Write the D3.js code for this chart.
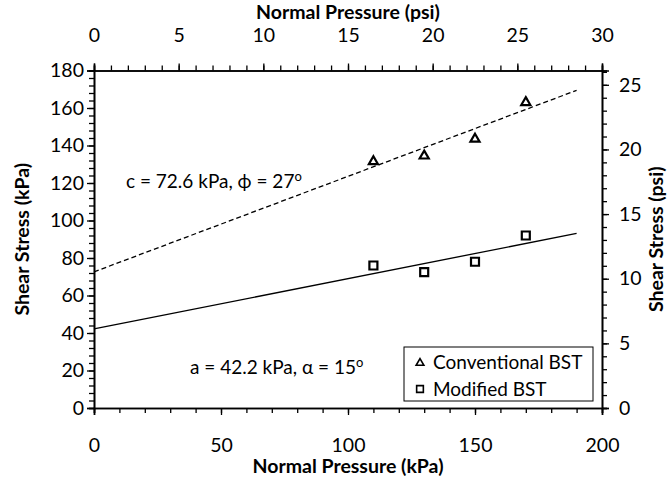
<!DOCTYPE html>
<html><head><meta charset="utf-8">
<script src="https://cdn.jsdelivr.net/npm/d3@7"></script>
<style>
body{margin:0;background:#fff}
text{font-family:Lato,'Open Sans','DejaVu Sans',sans-serif;fill:#000}
</style>
</head><body>
<svg id="chart" width="668" height="477"></svg>
<script>
// ---- data ----
const pressureKPa = [110, 130, 150, 170];
const conventionalKPa = [132, 135, 144, 163.5];
const modifiedKPa = [76, 72.5, 78, 92];
const seriesNames = ["Conventional BST", "Modified BST"];
const fitIntercepts = [72.6, 42.2];   // kPa
const fitAnglesDeg = [27, 15];
const fitRangeKPa = [0, 190];
const fitLabels = ["c = 72.6 kPa, \u03D5 = 27", "a = 42.2 kPa, \u03B1 = 15"];
const xTicksKPa = [0, 50, 100, 150, 200];
const xTicksPsi = [0, 5, 10, 15, 20, 25, 30];
const yTicksKPa = [0, 20, 40, 60, 80, 100, 120, 140, 160, 180];
const yTicksPsi = [0, 5, 10, 15, 20, 25];
const KPA_PER_PSI = 6.894757;

// ---- layout ----
const L = 94, R = 602, T = 70.5, B = 408;
const svg = d3.select("#chart");

const x = d3.scaleLinear().domain([0, 200]).range([L, R]);
const xPsi = d3.scaleLinear().domain([0, 30]).range([L, R]);
const y = d3.scaleLinear().domain([0, 180]).range([B, T]);
const yPsi = d3.scaleLinear().domain([0, 180 / KPA_PER_PSI]).range([B, T]);

const fs = 19.5;
function style(g) {
  g.select(".domain").attr("stroke", "#000").attr("stroke-width", 1.6);
  g.selectAll(".tick line").attr("stroke", "#000").attr("stroke-width", 1.3);
  g.selectAll("text").style("font-size", fs + "px").attr("fill", "#000");
}

// minor ticks
svg.append("g").attr("transform", `translate(0,${B})`)
  .call(d3.axisBottom(x).tickValues(d3.range(0, 201, 10)).tickSize(5).tickFormat(""))
  .call(style);
svg.append("g").attr("transform", `translate(0,${T})`)
  .call(d3.axisTop(xPsi).tickValues(d3.range(0, 31, 1)).tickSize(5).tickFormat(""))
  .call(style);
svg.append("g").attr("transform", `translate(${L},0)`)
  .call(d3.axisLeft(y).tickValues(d3.range(0, 181, 4)).tickSize(5).tickFormat(""))
  .call(style);
svg.append("g").attr("transform", `translate(${R},0)`)
  .call(d3.axisRight(yPsi).tickValues(d3.range(0, 27, 1)).tickSize(5).tickFormat(""))
  .call(style);

// major ticks + labels
svg.append("g").attr("transform", `translate(0,${B})`)
  .call(d3.axisBottom(x).tickValues(xTicksKPa).tickSize(7).tickPadding(23).tickFormat(d3.format("d")))
  .call(style);
svg.append("g").attr("transform", `translate(0,${T})`)
  .call(d3.axisTop(xPsi).tickValues(xTicksPsi).tickSize(7).tickPadding(22).tickFormat(d3.format("d")))
  .call(style);
svg.append("g").attr("transform", `translate(${L},0)`)
  .call(d3.axisLeft(y).tickValues(yTicksKPa).tickSize(7).tickPadding(3).tickFormat(d3.format("d")))
  .call(style);
svg.append("g").attr("transform", `translate(${R},0)`)
  .call(d3.axisRight(yPsi).tickValues(yTicksPsi).tickSize(7).tickPadding(10).tickFormat(d3.format("d")))
  .call(style);

// axis titles
const tfs = 19.5;
svg.append("text").attr("x", (L + R) / 2).attr("y", 19).attr("text-anchor", "middle")
  .style("font-weight", "bold").style("font-size", tfs + "px").text("Normal Pressure (psi)");
svg.append("text").attr("x", (L + R) / 2).attr("y", 473).attr("text-anchor", "middle")
  .style("font-weight", "bold").style("font-size", tfs + "px").text("Normal Pressure (kPa)");
svg.append("text").attr("transform", `translate(29,${(T + B) / 2}) rotate(-90)`).attr("text-anchor", "middle")
  .style("font-weight", "bold").style("font-size", tfs + "px").text("Shear Stress (kPa)");
svg.append("text").attr("transform", `translate(663,${(T + B) / 2}) rotate(-90)`).attr("text-anchor", "middle")
  .style("font-weight", "bold").style("font-size", tfs + "px").text("Shear Stress (psi)");

// fit lines
const fits = fitIntercepts.map((c, i) => fitRangeKPa.map(p => [p, c + p * Math.tan(fitAnglesDeg[i] * Math.PI / 180)]));
const line = d3.line().x(d => x(d[0])).y(d => y(d[1]));
svg.append("path").datum(fits[0]).attr("d", line).attr("fill", "none")
  .attr("stroke", "#000").attr("stroke-width", 1.3).attr("stroke-dasharray", "5,3");
svg.append("path").datum(fits[1]).attr("d", line).attr("fill", "none")
  .attr("stroke", "#000").attr("stroke-width", 1.3);

// markers
const tri = d3.symbol().type(d3.symbolTriangle).size(36);
const sq = d3.symbol().type(d3.symbolSquare).size(64);
svg.append("g").selectAll("path").data(pressureKPa.map((p, i) => [p, conventionalKPa[i]])).join("path")
  .attr("d", tri).attr("transform", d => `translate(${x(d[0])},${y(d[1]) + 1})`)
  .attr("fill", "#fff").attr("stroke", "#000").attr("stroke-width", 2.2);
svg.append("g").selectAll("path").data(pressureKPa.map((p, i) => [p, modifiedKPa[i]])).join("path")
  .attr("d", sq).attr("transform", d => `translate(${x(d[0])},${y(d[1])})`)
  .attr("fill", "#fff").attr("stroke", "#000").attr("stroke-width", 2.2);

// annotations
function ann(tx, ty, label) {
  const t = svg.append("text").attr("x", tx).attr("y", ty).style("font-size", "19px");
  t.append("tspan").text(label);
  t.append("tspan").attr("dy", -7).style("font-size", "13px").text("o");
}
ann(126, 188, fitLabels[0]);
ann(190, 374, fitLabels[1]);

// legend
const lg = svg.append("g");
lg.append("rect").attr("x", 404).attr("y", 347).attr("width", 189).attr("height", 54)
  .attr("fill", "#fff").attr("stroke", "#000").attr("stroke-width", 1);
const legendRows = [362, 389];
lg.append("path").attr("d", d3.symbol().type(d3.symbolTriangle).size(26))
  .attr("transform", `translate(420,${legendRows[0] + 1})`).attr("fill", "#fff").attr("stroke", "#000").attr("stroke-width", 1.6);
lg.append("path").attr("d", d3.symbol().type(d3.symbolSquare).size(45))
  .attr("transform", `translate(420,${legendRows[1]})`).attr("fill", "#fff").attr("stroke", "#000").attr("stroke-width", 1.6);
seriesNames.forEach((n, i) => {
  lg.append("text").attr("x", 433).attr("y", legendRows[i]).attr("dy", "0.35em")
    .style("font-size", "19px").text(n);
});
</script>
</body></html>
